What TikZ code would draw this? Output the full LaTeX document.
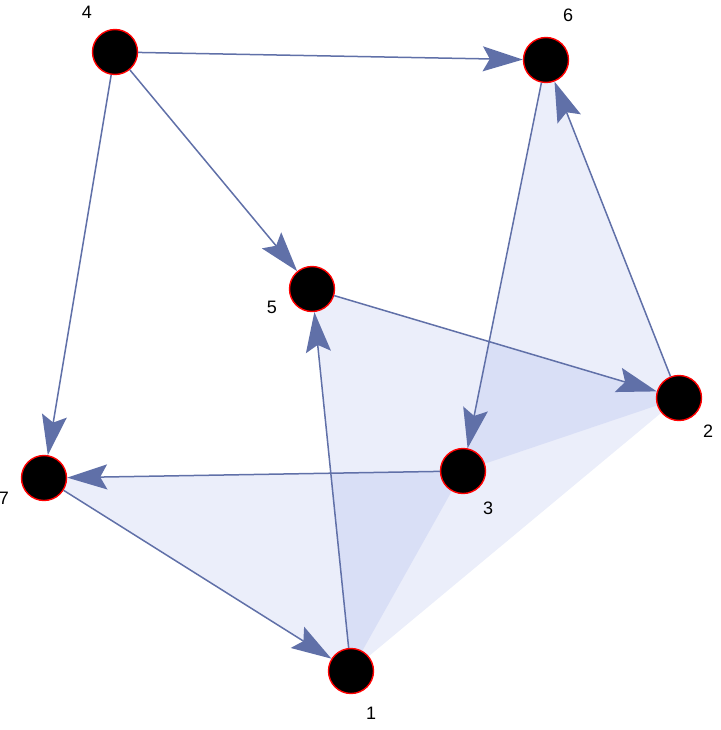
\documentclass[tikz,border=0pt]{standalone}
\usepackage{fontspec}
\setmainfont{Liberation Sans}
\usetikzlibrary{arrows.meta,backgrounds}
\definecolor{edgeblue}{RGB}{96,112,168}
\definecolor{faceblue}{RGB}{110,132,219}
\tikzset{
  vertex/.style={circle, fill=black, draw=red, line width=1.4pt, minimum size=45pt, inner sep=0pt},
  vlabel/.style={font=\fontsize{18}{18}\selectfont, inner sep=0pt},
  face/.style={fill=faceblue, fill opacity=0.14, draw=none},
  arc/.style={draw=edgeblue, line width=1.5pt, -{Stealth[length=40pt, width=25pt, inset=7pt]}}
}
\begin{document}
\begin{tikzpicture}[x=1pt, y=-1pt]
      \useasboundingbox (0,0) rectangle (720,730);
      \draw
        (351,671) node[vertex] (1){}
        (679,398) node[vertex] (2){}
        (463,471) node[vertex] (3){}
        (115,52) node[vertex] (4){}
        (312,289) node[vertex] (5){}
        (546,60) node[vertex] (6){}
        (44,478) node[vertex] (7){};
      \draw
        (371,713) node[vlabel] (l1){1}
        (708,431) node[vlabel] (l2){2}
        (488,508) node[vlabel] (l3){3}
        (87,12) node[vlabel] (l4){4}
        (272,307) node[vlabel] (l5){5}
        (568,15) node[vlabel] (l6){6}
        (4,498) node[vlabel] (l7){7};
      \begin{scope}[on background layer]
        \path[face] (6.center) -- (2.center) -- (3.center) -- cycle;
        \path[face] (5.center) -- (2.center) -- (1.center) -- cycle;
        \path[face] (7.center) -- (3.center) -- (1.center) -- cycle;
      \end{scope}
      \begin{scope}[arc]
        \draw (4) to (6);
        \draw (4) to (5);
        \draw (4) to (7);
        \draw (6) to (3);
        \draw (2) to (6);
        \draw (5) to (2);
        \draw (3) to (7);
        \draw (7) to (1);
        \draw (1) to (5);
      \end{scope}
    \end{tikzpicture}
\end{document}
